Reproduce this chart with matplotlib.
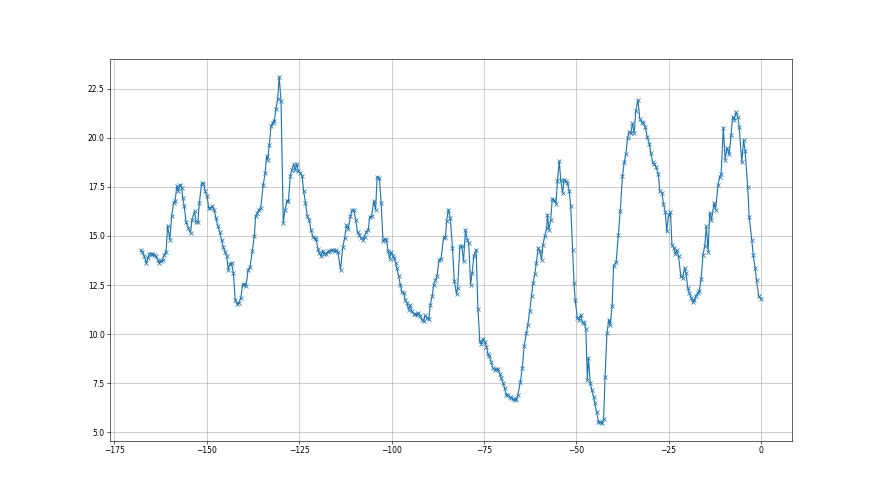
import matplotlib
matplotlib.use("Agg")
import matplotlib.pyplot as plt

# time axis (~0.5 step, ending at 0)
time_values = [
    -167.8, -167.4, -166.9, -166.4, -165.9, -165.6, -165.1, -164.7, -164.2, -163.8,
    -163.3, -162.9, -162.4, -161.9, -161.5, -161.0, -160.6, -160.0, -159.5, -159.0,
    -158.6, -158.1, -157.7, -157.2, -156.8, -156.5, -156.1, -155.6, -155.0, -154.4,
    -154.0, -153.3, -152.9, -152.4, -152.0, -151.4, -150.9, -150.4, -149.9, -149.5,
    -149.0, -148.5, -148.0,
    -147.5, -147.0, -146.5, -146.0, -145.5, -145.0, -144.6, -144.2, -143.7, -143.3,
    -142.8, -142.3, -141.8, -141.3, -140.8, -140.3, -139.8, -139.4, -138.8, -138.3,
    -137.7, -137.1, -136.8, -136.3, -135.9, -135.4, -134.7, -134.2, -133.8, -133.5,
    -133.1, -132.6, -132.2, -131.7, -131.3, -130.8, -130.4, -129.9, -129.3, -128.8,
    -128.3, -127.9, -127.4, -127.0, -126.5, -126.1, -125.6,
    -125.2, -124.7, -124.2, -123.8, -123.3, -122.8, -122.3, -121.8, -121.3, -120.8,
    -120.4, -119.9, -119.5, -119.1, -118.6, -118.2, -117.7, -117.3, -116.8, -116.4,
    -115.9, -115.4, -114.9, -114.5, -113.8, -113.2, -112.7, -112.2, -111.7, -111.1,
    -110.7, -110.2, -109.7, -109.2, -108.8, -108.2, -107.8, -107.3, -106.9, -106.3,
    -105.9, -105.4, -104.8, -104.3, -103.9, -103.3, -102.8, -102.3, -101.8, -101.4,
    -100.9, -100.5, -100.1, -99.7, -99.3, -98.9,
    -98.6, -98.1, -97.6, -97.2, -96.7, -96.3, -95.8, -95.4, -94.9, -94.5,
    -94.0, -93.6, -93.1, -92.7, -92.2, -91.8, -91.3, -90.9, -90.4, -89.9,
    -89.5, -89.0, -88.6, -88.1, -87.7, -87.1, -86.6, -85.9, -85.4, -85.1,
    -84.6, -84.1, -83.5, -83.0, -82.4, -82.1, -81.5, -81.0, -80.5, -80.0,
    -79.5, -79.1, -78.6, -78.2, -77.7, -77.1, -76.6, -76.1, -75.7, -75.2,
    -74.8, -74.3, -73.9, -73.5, -73.0, -72.6, -72.1, -71.7, -71.2, -70.7,
    -70.3, -69.8, -69.4, -68.9, -68.5, -68.0, -67.6, -67.1, -66.7, -66.2,
    -65.8, -65.1, -64.6, -64.1, -63.5, -63.1, -62.6, -62.1, -61.7, -61.2,
    -60.8, -60.3, -59.9, -59.4, -59.0, -58.5, -58.0, -57.8, -57.4, -56.9,
    -56.5, -56.0, -55.5, -55.1, -54.6,
    -54.2, -53.7, -53.3, -52.8, -52.4, -51.9, -51.5, -51.0, -50.6, -50.3,
    -49.7, -49.2, -48.8, -48.3, -47.8, -47.4, -47.0, -46.7, -46.2, -45.8,
    -45.3, -45.0, -44.5, -44.0, -43.6, -43.1, -42.6, -42.2, -41.7, -41.2,
    -40.8, -40.3, -39.9, -39.2, -38.6, -38.1, -37.5, -37.0, -36.6, -36.1,
    -35.7, -35.2, -34.8, -34.3, -33.9, -33.3, -32.8, -32.3, -31.9, -31.3,
    -30.8, -30.2, -29.8, -29.3, -28.9, -28.4, -27.8, -27.4, -26.8, -26.4,
    -25.9, -25.5, -25.0, -24.5, -24.1, -23.6, -23.2, -22.8, -22.3, -21.7,
    -21.2, -20.7, -20.3, -19.8, -19.4, -18.9, -18.5, -18.0, -17.6, -17.1,
    -16.7, -16.2, -15.7, -15.2, -14.8, -14.3, -13.9, -13.4, -12.7, -12.3,
    -11.6, -11.2, -10.8, -10.2, -9.7, -9.2, -8.6, -8.1, -7.7, -7.2,
    -6.8, -6.3, -5.9, -5.2, -4.7, -4.3, -3.6, -3.2, -2.5, -2.1,
    -1.6, -1.2, -0.6, 0.0,
]

readings = [
    14.27, 14.17, 13.96, 13.62, 13.88, 14.08, 14.10, 14.10, 14.05, 13.96,
    13.79, 13.62, 13.74, 13.79, 14.05, 14.20, 15.53, 14.81, 16.00, 16.68,
    16.77, 17.53, 17.31, 17.62, 17.45, 16.94, 16.51, 15.70, 15.41, 15.15,
    15.83, 16.26, 15.71, 15.71, 16.68, 17.70, 17.67, 17.28, 17.02, 16.43,
    16.43, 16.51, 16.34,
    15.90, 15.50, 15.20, 14.81, 14.42, 14.17, 13.96, 13.28, 13.59, 13.62,
    13.11, 11.75, 11.55, 11.60, 11.85, 12.50, 12.57, 12.43, 13.28, 13.42,
    14.22, 15.02, 16.00, 16.17, 16.34, 16.43, 17.62, 18.21, 19.06, 18.89,
    19.61, 20.60, 20.77, 20.88, 21.45, 21.96, 23.11, 21.87, 15.66, 16.34,
    16.77, 16.77, 18.04, 18.38, 18.64, 18.38, 18.64,
    18.30, 18.21, 18.04, 17.30, 16.70, 16.00, 15.83, 15.32, 14.97, 14.88,
    14.85, 14.32, 14.12, 13.98, 14.25, 14.10, 14.10, 14.17, 14.22, 14.27,
    14.27, 14.22, 14.27, 14.17, 13.28, 14.42, 14.88, 15.54, 15.36, 16.00,
    16.31, 16.31, 15.83, 15.19, 15.07, 14.88, 14.81, 14.97, 15.19, 15.32,
    15.97, 16.00, 16.77, 16.34, 18.01, 17.96, 16.68, 14.72, 14.85, 14.81,
    14.22, 13.85, 14.17, 14.00, 13.88, 13.62,
    13.37, 12.98, 12.52, 12.13, 12.09, 11.75, 11.58, 11.24, 11.46, 11.16,
    11.04, 11.04, 10.99, 11.07, 10.94, 10.73, 10.68, 10.95, 10.82, 10.75,
    11.50, 11.92, 12.52, 12.74, 12.94, 13.79, 13.83, 14.90, 14.93, 15.75,
    16.34, 15.92, 14.39, 12.69, 12.04, 12.35, 14.47, 14.47, 13.71, 15.32,
    14.81, 14.64, 12.52, 13.10, 14.00, 14.30, 11.28, 9.63, 9.50, 9.75,
    9.60, 9.35, 9.00, 8.86, 8.57, 8.27, 8.18, 8.21, 8.21, 7.98,
    7.76, 7.50, 7.24, 6.90, 6.90, 6.79, 6.73, 6.68, 6.65, 6.68,
    6.90, 7.58, 8.27, 9.40, 10.05, 10.48, 11.16, 11.96, 12.60, 13.08,
    13.62, 14.39, 14.22, 13.79, 14.56, 15.02, 15.41, 16.09, 15.32, 15.83,
    16.89, 16.82, 16.65, 17.79, 18.81,
    17.84, 17.19, 17.87, 17.79, 17.70, 17.28, 16.51, 14.30, 12.60, 11.75,
    10.82, 10.73, 10.99, 10.60, 10.56, 10.26, 7.68, 8.78, 7.50, 7.16,
    6.82, 6.48, 6.05, 5.54, 5.50, 5.46, 5.66, 7.84, 10.05, 10.73,
    10.48, 11.41, 13.49, 13.66, 15.07, 16.26, 18.04, 18.76, 19.15, 20.00,
    20.29, 20.26, 20.73, 20.26, 21.36, 21.92, 20.97, 20.80, 20.77, 20.54,
    20.05, 19.66, 19.20, 18.76, 18.64, 18.50, 18.18, 17.28, 17.19, 16.65,
    16.21, 15.24, 16.09, 16.21, 14.56, 14.39, 14.10, 14.27, 13.96, 12.94,
    12.86, 13.37, 13.11, 12.35, 12.09, 11.85, 11.62, 11.75, 11.96, 12.09,
    12.20, 12.80, 14.05, 14.50, 15.50, 14.20, 16.17, 15.83, 16.68, 16.34,
    17.62, 18.01, 18.13, 20.51, 18.89, 19.49, 19.15, 20.12, 21.07, 20.93,
    21.31, 21.07, 20.54, 18.76, 19.88, 19.32, 17.50, 15.97, 14.81, 14.01,
    13.37, 12.74, 11.92, 11.80,
]

plt.figure(figsize=(16, 9), dpi=55)
plt.plot(time_values, readings, marker="x")
plt.grid(True)
plt.savefig("out.png")
